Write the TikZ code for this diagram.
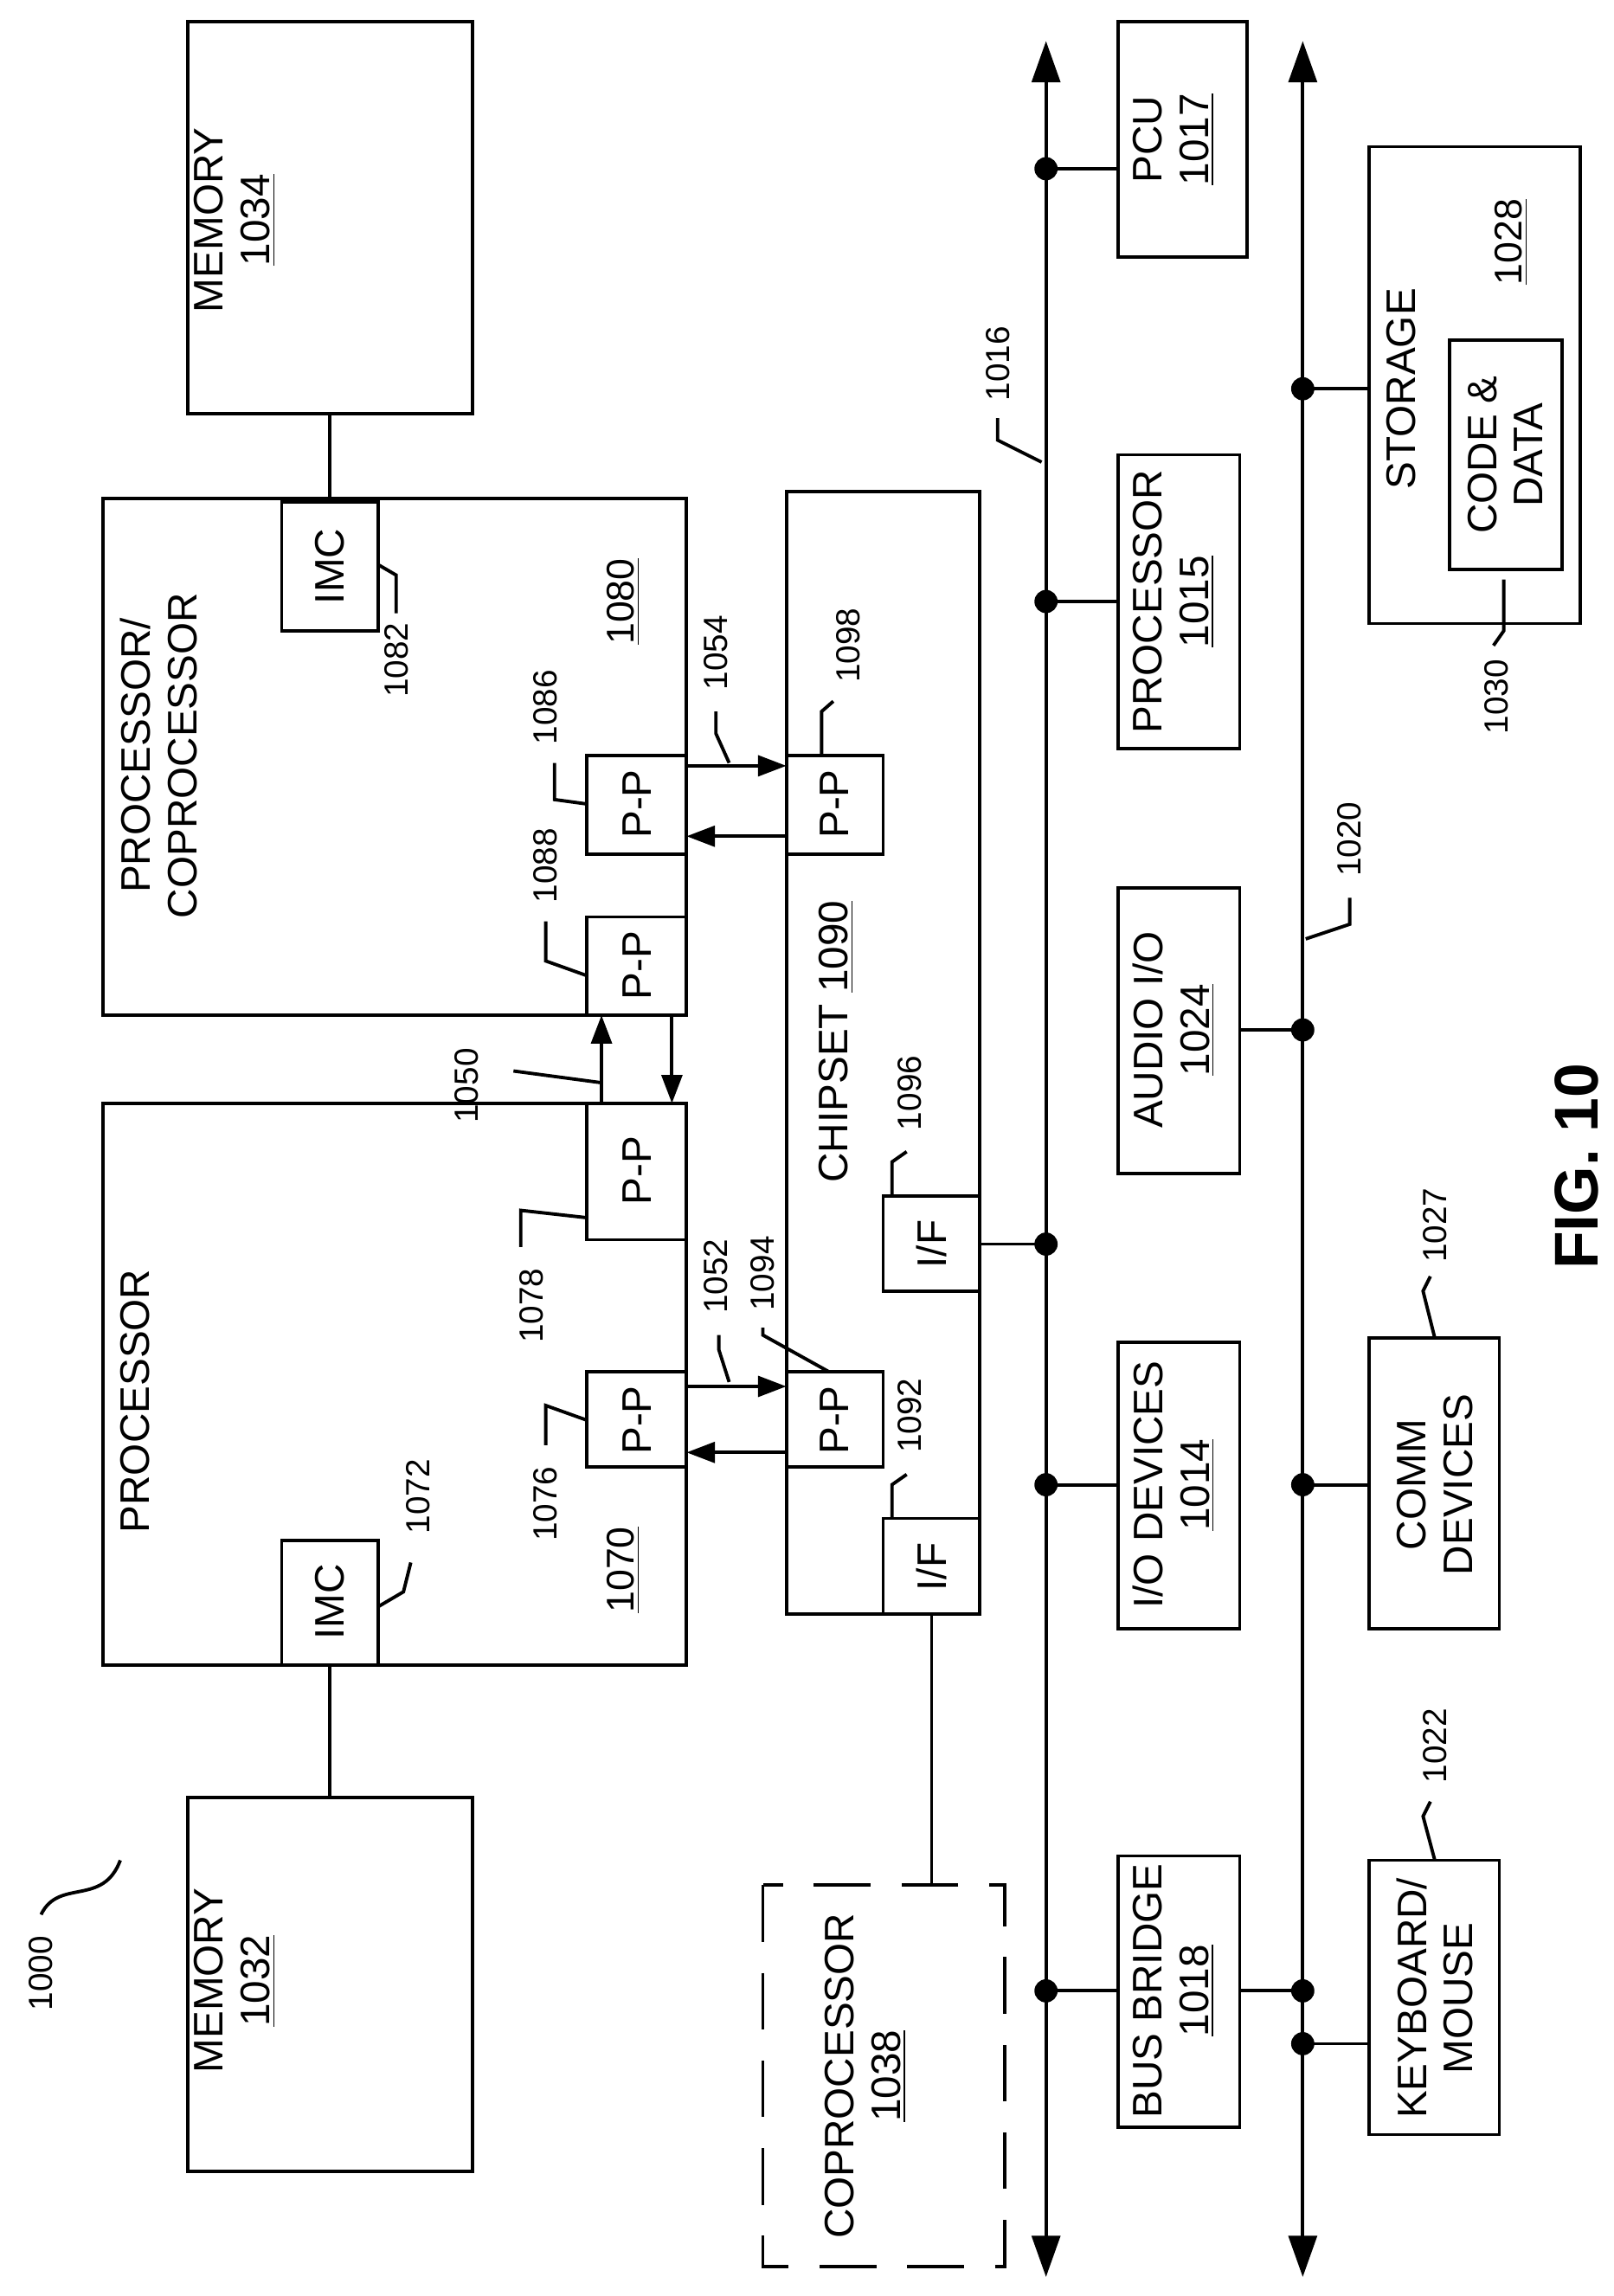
\documentclass[tikz,border=0pt]{standalone}
\usepackage{fontspec}
\setmainfont{Liberation Sans}
\usetikzlibrary{arrows.meta}
\begin{document}
\begin{tikzpicture}[x=0.02cm,y=-0.02cm,line width=1.3pt,
  box/.style={draw},
  t/.style={rotate=90,font=\fontsize{16}{18}\selectfont,align=center},
  lab/.style={rotate=90,font=\fontsize{13}{15}\selectfont},
  dot/.style={circle,fill,inner sep=0pt,minimum size=9pt},
  ar/.style={-{Triangle[length=11pt,width=8pt]}},
  bus/.style={{Triangle[length=16pt,width=11pt]}-{Triangle[length=16pt,width=11pt]}}]
\useasboundingbox (0,0) rectangle (1100,1565);
% memory 1034
\draw (128,15) rectangle (322,282);
\node[t] at (160,150) {MEMORY\\\underline{1034}};
\draw (70,340) rectangle (468,692);
\node[t,anchor=north] at (75,515) {PROCESSOR/\\COPROCESSOR};
\node[lab,font=\fontsize{15}{17}\selectfont] at (425,410) {\underline{1080}};
\draw (192,342) rectangle (258,430); \node[t] at (225,386) {IMC};
\draw (225,282) -- (225,342);
\draw (258,385) -- (270,392) -- (270,418); \node[lab] at (270,450) {1082};
\draw (400,515) rectangle (468,582); \node[t] at (434,548) {P-P};
\draw (400,625) rectangle (468,692); \node[t] at (434,658) {P-P};
\draw (400,548) -- (378,545) -- (378,520); \node[lab] at (372,482) {1086};
\draw (400,665) -- (372,655) -- (372,628); \node[lab] at (372,590) {1088};
% processor 1070
\draw (70,752) rectangle (468,1135);
\node[t] at (92,955) {PROCESSOR};
\node[lab,font=\fontsize{15}{17}\selectfont] at (425,1070) {\underline{1070}};
\draw (192,1050) rectangle (258,1135); \node[t] at (225,1092) {IMC};
\draw (258,1095) -- (275,1085) -- (280,1065); \node[lab] at (285,1020) {1072};
\draw (128,1225) rectangle (322,1480);
\node[t] at (160,1350) {MEMORY\\\underline{1032}};
\draw (225,1135) -- (225,1225);
\draw (400,752) rectangle (468,845); \node[t] at (434,798) {P-P};
\draw (400,935) rectangle (468,1000); \node[t] at (434,968) {P-P};
\draw (400,830) -- (355,825) -- (355,850); \node[lab] at (362,890) {1078};
\draw (400,968) -- (372,958) -- (372,985); \node[lab] at (372,1025) {1076};
% 1050
\draw[ar] (410,752) -- (410,692);
\draw[ar] (458,692) -- (458,752);
\draw (350,730) -- (410,738); \node[lab] at (318,740) {1050};
% chipset
\draw (536,335) rectangle (668,1100);
\node[t] at (570,710) {CHIPSET \underline{1090}};
\draw (536,515) rectangle (602,582); \node[t] at (569,548) {P-P};
\draw[ar] (468,522) -- (536,522);
\draw[ar] (536,570) -- (468,570);
\draw (497,520) -- (488,500) -- (488,485); \node[lab] at (488,445) {1054};
\draw (560,515) -- (560,485) -- (568,478); \node[lab] at (578,440) {1098};
\draw (536,935) rectangle (602,1000); \node[t] at (569,968) {P-P};
\draw[ar] (468,945) -- (536,945);
\draw[ar] (536,990) -- (468,990);
\draw (497,942) -- (490,920) -- (490,910); \node[lab] at (488,870) {1052};
\draw (565,935) -- (520,910) -- (520,905); \node[lab] at (520,868) {1094};
\draw (602,815) rectangle (668,880); \node[t] at (635,848) {I/F};
\draw (602,1035) rectangle (668,1100); \node[t] at (635,1068) {I/F};
\draw (608,815) -- (608,792) -- (618,785); \node[lab] at (620,745) {1096};
\draw (608,1035) -- (608,1012) -- (618,1005); \node[lab] at (620,965) {1092};
% buses
\draw[bus] (713,28) -- (713,1552);
\draw[bus] (888,28) -- (888,1552);
\draw (710,315) -- (680,300) -- (680,285); \node[lab] at (680,248) {1016};
\draw (890,640) -- (920,630) -- (920,612); \node[lab] at (920,572) {1020};
% right column boxes
\draw (762,15) rectangle (850,175); \node[t] at (800,95) {PCU\\\underline{1017}};
\node[dot] at (713,115) {}; \draw (713,115) -- (762,115);
\draw (762,310) rectangle (845,510); \node[t] at (800,410) {PROCESSOR\\\underline{1015}};
\node[dot] at (713,410) {}; \draw (713,410) -- (762,410);
\draw (762,605) rectangle (845,800); \node[t] at (800,702) {AUDIO I/O\\\underline{1024}};
\node[dot] at (888,702) {}; \draw (845,702) -- (888,702);
\node[dot] at (713,848) {}; \draw (668,848) -- (713,848);
\draw (762,915) rectangle (845,1110); \node[t] at (800,1012) {I/O DEVICES\\\underline{1014}};
\node[dot] at (713,1012) {}; \draw (713,1012) -- (762,1012);
\draw (762,1265) rectangle (845,1450); \node[t] at (800,1357) {BUS BRIDGE\\\underline{1018}};
\node[dot] at (713,1357) {}; \draw (713,1357) -- (762,1357);
\node[dot] at (888,1357) {}; \draw (845,1357) -- (888,1357);
% storage
\draw (933,100) rectangle (1077,425);
\node[t] at (955,265) {STORAGE};
\node[lab,font=\fontsize{15}{17}\selectfont] at (1030,165) {\underline{1028}};
\draw (988,232) rectangle (1065,388); \node[t] at (1026,310) {CODE \&\\DATA};
\node[dot] at (888,265) {}; \draw (888,265) -- (933,265);
\draw (1025,395) -- (1025,430) -- (1018,440); \node[lab] at (1020,475) {1030};
\draw (933,912) rectangle (1022,1110); \node[t] at (978,1012) {COMM\\DEVICES};
\node[dot] at (888,1012) {}; \draw (888,1012) -- (933,1012);
\draw (978,912) -- (970,880) -- (975,870); \node[lab] at (978,835) {1027};
\draw (933,1268) rectangle (1022,1455); \node[t] at (978,1362) {KEYBOARD/\\MOUSE};
\node[dot] at (888,1393) {}; \draw (888,1393) -- (933,1393);
\draw (978,1268) -- (970,1238) -- (975,1228); \node[lab] at (978,1190) {1022};
% coprocessor
\draw[dash pattern=on 22pt off 12pt] (520,1285) rectangle (685,1545);
\node[t] at (590,1415) {COPROCESSOR\\\underline{1038}};
\draw (635,1100) -- (635,1285);
% 1000
\node[lab] at (28,1345) {1000};
\draw (28,1305) .. controls (40,1280) and (70,1300) .. (82,1268);
\node[rotate=90,font=\bfseries\fontsize{24}{26}\selectfont] at (1075,795) {FIG. 10};
\end{tikzpicture}
\end{document}
